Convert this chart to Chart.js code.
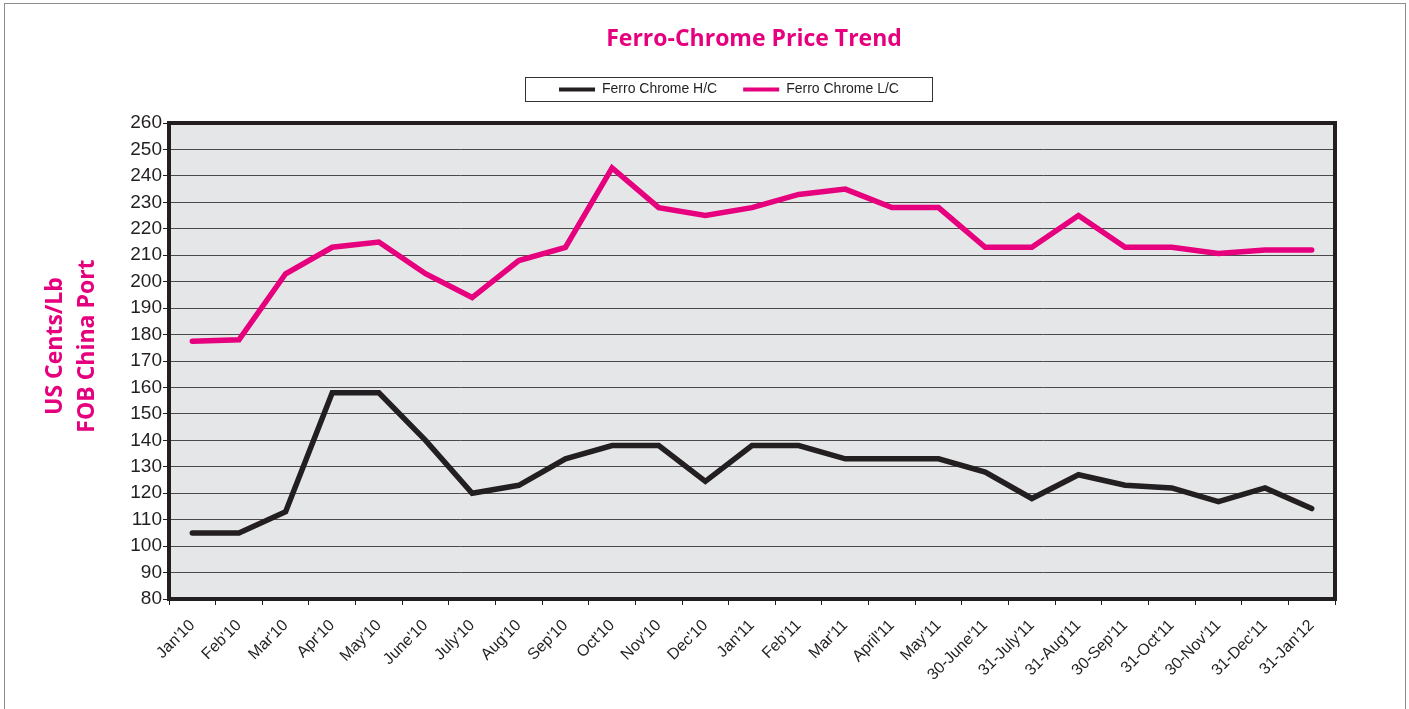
<!DOCTYPE html>
<html>
<head>
<meta charset="utf-8">
<script src="https://cdn.jsdelivr.net/npm/chart.js@4/dist/chart.umd.min.js"></script>
<style>
  html, body { margin: 0; padding: 0; background: #ffffff; overflow: hidden; }
  #frame { position: absolute; left: 4px; top: 3px; width: 1402px; height: 800px;
           border: 1.5px solid #8c8c8c; border-bottom: none; box-sizing: border-box; }
  #c { position: absolute; left: 0; top: 0; }
</style>
</head>
<body>
<div id="frame"></div>
<canvas id="c" width="1409" height="709"></canvas>
<script>
const categories = ["Jan'10","Feb'10","Mar'10","Apr'10","May'10","June'10","July'10","Aug'10","Sep'10","Oct'10","Nov'10","Dec'10",
  "Jan'11","Feb'11","Mar'11","April'11","May'11","30-June'11","31-July'11","31-Aug'11","30-Sep'11","31-Oct'11","30-Nov'11","31-Dec'11","31-Jan'12"];
const ferroChromeHC = [105,105,113,158,158,140,120,123,133,138,138,124.5,138,138,133,133,133,128,118,127,123,122,116.8,122,114.2];
const ferroChromeLC = [177.5,178,203,213,215,203,194,208,213,243,228,225,228,233,235,228,228,213,213,225,213,213,210.7,212,212];
const yTicks = { min: 80, max: 260, step: 10 };
const seriesNames = ['Ferro Chrome H/C', 'Ferro Chrome L/C'];

const PINK = '#e6007e';
const DARK = '#231f20';

const TITLE_CX = 754, TITLE_CY = 39;
const LEG_CX = 729, LEG_CY = 89.5;
const AREA_TOP = 123;
const TITLE_SIZE = 23;

const decor = {
  id: 'decor',
  beforeDraw(chart) {
    const { ctx, chartArea: a } = chart;
    ctx.save();
    ctx.fillStyle = '#e5e6e8';
    ctx.fillRect(a.left, a.top, a.right - a.left, a.bottom - a.top);
    ctx.restore();
    const t = chart.titleBlock;
    if (t) {
      const w = t.right - t.left;
      t.left = TITLE_CX - w / 2; t.right = t.left + w;
      const lh = TITLE_SIZE * 1.2;
      const h = t.bottom - t.top;
      t.top = TITLE_CY - lh / 2; t.bottom = t.top + h;
    }
    const lg = chart.legend;
    if (lg) {
      const w = lg.right - lg.left;
      lg.left = LEG_CX - w / 2; lg.right = lg.left + w;
      const pad = lg.options.labels.padding;
      const h = lg.bottom - lg.top;
      lg.top = LEG_CY - pad - 7; lg.bottom = lg.top + h;
    }
  },
  beforeDatasetsDraw(chart) {
    const { ctx, chartArea: a } = chart;
    ctx.save();
    ctx.strokeStyle = DARK;
    ctx.lineWidth = 4;
    ctx.strokeRect(a.left, a.top, a.right - a.left, a.bottom - a.top);
    ctx.restore();
  },
  afterDraw(chart) {
    const lg = chart.legend;
    const { ctx } = chart;
    const cx = (lg.left + lg.right) / 2;
    ctx.save();
    ctx.strokeStyle = '#333333';
    ctx.lineWidth = 1;
    ctx.strokeRect(Math.round(cx - 204) + 0.5, 77.5, 407, 24);
    ctx.restore();
  }
};

const chart = new Chart(document.getElementById('c'), {
  type: 'line',
  data: {
    labels: categories,
    datasets: [
      { label: seriesNames[0], data: ferroChromeHC, borderColor: DARK, backgroundColor: DARK,
        borderWidth: 5.5, pointRadius: 0, tension: 0, borderCapStyle: 'round', borderJoinStyle: 'miter', fill: false },
      { label: seriesNames[1], data: ferroChromeLC, borderColor: PINK, backgroundColor: PINK,
        borderWidth: 5.5, pointRadius: 0, tension: 0, borderCapStyle: 'round', borderJoinStyle: 'miter', fill: false }
    ]
  },
  options: {
    responsive: false,
    animation: false,
    events: [],
    layout: { padding: { left: 39, right: 74, top: 20, bottom: 10 } },
    plugins: {
      title: {
        display: true,
        text: 'Ferro-Chrome Price Trend',
        color: PINK,
        font: { family: "'Open Sans', 'Noto Sans', sans-serif", size: TITLE_SIZE, weight: 'bold', lineHeight: 1.2 },
        padding: { top: 0, bottom: 10 }
      },
      legend: {
        display: true,
        labels: {
          color: DARK,
          font: { family: "'Liberation Sans', Arial, sans-serif", size: 14 },
          boxWidth: 36,
          boxHeight: 4,
          padding: 26,
          generateLabels(chart) {
            return chart.data.datasets.map((ds, i) => ({
              text: ds.label, fillStyle: ds.borderColor, strokeStyle: ds.borderColor,
              lineWidth: 0, hidden: false, datasetIndex: i, fontColor: DARK
            }));
          }
        }
      },
      tooltip: { enabled: false }
    },
    scales: {
      x: {
        type: 'category',
        offset: true,
        grid: { offset: true, drawOnChartArea: false, drawTicks: true, tickLength: 6, color: DARK, tickColor: DARK },
        border: { display: false },
        ticks: { autoSkip: false, maxRotation: 45, minRotation: 45, color: DARK, padding: 11,
                 font: { family: "'Liberation Sans', Arial, sans-serif", size: 16 } },
        afterFit(scale) { scale.height = 100; }
      },
      y: {
        min: yTicks.min, max: yTicks.max,
        grid: { color: '#4a4a4a', lineWidth: 1, tickLength: 6, tickColor: DARK, drawTicks: true },
        border: { display: false },
        ticks: { stepSize: yTicks.step, color: DARK, padding: 1,
                 font: { family: "'Liberation Sans', Arial, sans-serif", size: 19 } },
        title: {
          display: true,
          text: ['\u00a0\u00a0\u00a0\u00a0\u00a0US Cents/Lb', '\u00a0\u00a0\u00a0\u00a0\u00a0FOB China Port'],
          color: PINK,
          font: { family: "'Open Sans', 'Noto Sans', sans-serif", size: 23, weight: 'bold', lineHeight: 1.4 },
          padding: { top: 0, bottom: 0 }
        },
        afterFit(scale) { scale.width = 130; }
      }
    }
  },
  plugins: [decor]
});

const dt = AREA_TOP - chart.chartArea.top;
if (Math.abs(dt) > 0.01) {
  chart.options.layout.padding.top += dt;
  chart.update('none');
}
</script>
</body>
</html>
